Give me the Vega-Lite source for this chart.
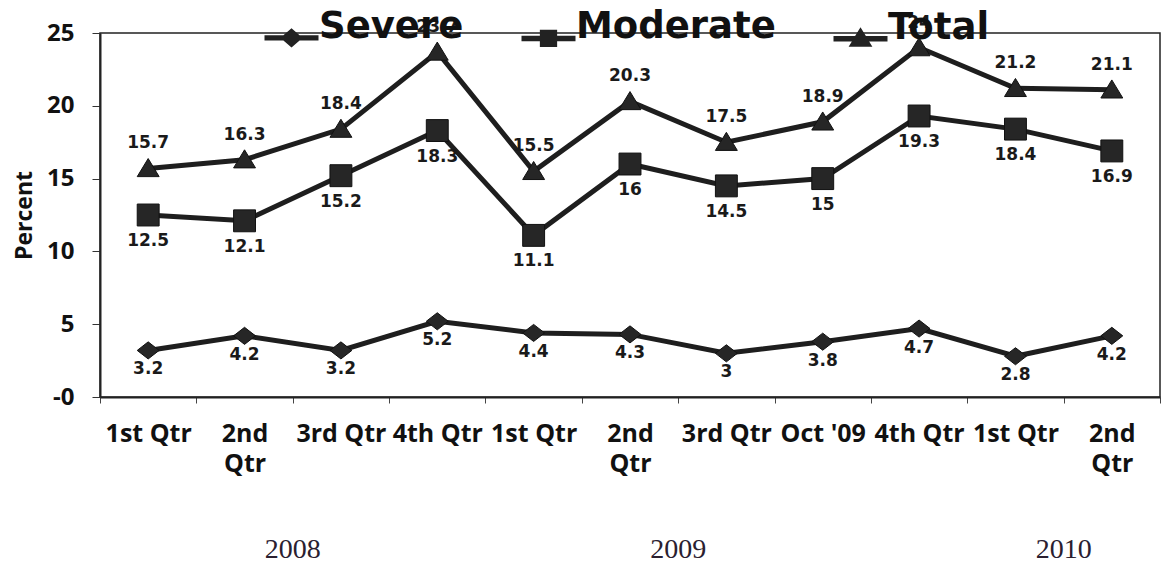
{
  "$schema": "https://vega.github.io/schema/vega-lite/v6.json",
  "width": 1060,
  "height": 364,
  "autosize": {"type": "none"},
  "padding": {"left": 100, "top": 33, "right": 3, "bottom": 171},
  "background": "white",
  "config": {
    "view": {"stroke": "#222", "strokeWidth": 1.5},
    "legend": {
      "orient": "none",
      "legendX": 164,
      "legendY": -23,
      "direction": "horizontal",
      "labelFont": "DejaVu Sans",
      "labelFontWeight": "bold",
      "labelFontSize": 37,
      "labelColor": "#111",
      "labelOffset": 0,
      "labelBaseline": "alphabetic",
      "labelLimit": 400,
      "columnPadding": 56,
      "symbolSize": 2916,
      "symbolOpacity": 1,
      "symbolFillColor": "#222",
      "symbolStrokeColor": "#111",
      "symbolStrokeWidth": 0.5
    }
  },
  "datasets": {
    "main": [
      {"period": "1st Qtr 2008", "series": "Severe", "value": 3.2},
      {"period": "2nd Qtr 2008", "series": "Severe", "value": 4.2},
      {"period": "3rd Qtr 2008", "series": "Severe", "value": 3.2},
      {"period": "4th Qtr 2008", "series": "Severe", "value": 5.2},
      {"period": "1st Qtr 2009", "series": "Severe", "value": 4.4},
      {"period": "2nd Qtr 2009", "series": "Severe", "value": 4.3},
      {"period": "3rd Qtr 2009", "series": "Severe", "value": 3},
      {"period": "Oct 2009", "series": "Severe", "value": 3.8},
      {"period": "4th Qtr 2009", "series": "Severe", "value": 4.7},
      {"period": "1st Qtr 2010", "series": "Severe", "value": 2.8},
      {"period": "2nd Qtr 2010", "series": "Severe", "value": 4.2},
      {"period": "1st Qtr 2008", "series": "Moderate", "value": 12.5},
      {"period": "2nd Qtr 2008", "series": "Moderate", "value": 12.1},
      {"period": "3rd Qtr 2008", "series": "Moderate", "value": 15.2},
      {"period": "4th Qtr 2008", "series": "Moderate", "value": 18.3},
      {"period": "1st Qtr 2009", "series": "Moderate", "value": 11.1},
      {"period": "2nd Qtr 2009", "series": "Moderate", "value": 16},
      {"period": "3rd Qtr 2009", "series": "Moderate", "value": 14.5},
      {"period": "Oct 2009", "series": "Moderate", "value": 15},
      {"period": "4th Qtr 2009", "series": "Moderate", "value": 19.3},
      {"period": "1st Qtr 2010", "series": "Moderate", "value": 18.4},
      {"period": "2nd Qtr 2010", "series": "Moderate", "value": 16.9},
      {"period": "1st Qtr 2008", "series": "Total", "value": 15.7},
      {"period": "2nd Qtr 2008", "series": "Total", "value": 16.3},
      {"period": "3rd Qtr 2008", "series": "Total", "value": 18.4},
      {"period": "4th Qtr 2008", "series": "Total", "value": 23.7},
      {"period": "1st Qtr 2009", "series": "Total", "value": 15.5},
      {"period": "2nd Qtr 2009", "series": "Total", "value": 20.3},
      {"period": "3rd Qtr 2009", "series": "Total", "value": 17.5},
      {"period": "Oct 2009", "series": "Total", "value": 18.9},
      {"period": "4th Qtr 2009", "series": "Total", "value": 24},
      {"period": "1st Qtr 2010", "series": "Total", "value": 21.2},
      {"period": "2nd Qtr 2010", "series": "Total", "value": 21.1}
    ],
    "years": [
      {"period": "2nd Qtr 2008", "year": "2008"},
      {"period": "2nd Qtr 2009", "year": "2009"},
      {"period": "1st Qtr 2010", "year": "2010"}
    ]
  },
  "layer": [
    {
      "data": {"name": "main"},
      "mark": {"type": "line", "strokeWidth": 5, "color": "#1e1e1e"},
      "encoding": {
        "x": {
          "field": "period",
          "type": "ordinal",
          "scale": {
            "type": "band",
            "domain": ["1st Qtr 2008", "2nd Qtr 2008", "3rd Qtr 2008", "4th Qtr 2008", "1st Qtr 2009", "2nd Qtr 2009", "3rd Qtr 2009", "Oct 2009", "4th Qtr 2009", "1st Qtr 2010", "2nd Qtr 2010"],
            "paddingInner": 0,
            "paddingOuter": 0
          },
          "axis": {
            "title": null,
            "labelExpr": "!isValid(datum.value) ? '' : (test(/^2nd/, '' + datum.value) ? ['2nd', 'Qtr'] : (datum.value == 'Oct 2009' ? \"Oct '09\" : substring('' + datum.value, 0, 7)))",
            "labelAngle": 0,
            "labelOverlap": false,
            "labelFont": "Open Sans",
            "labelFontWeight": "bold",
            "labelFontSize": 25,
            "labelLineHeight": 30,
            "labelPadding": 18,
            "labelBaseline": "top",
            "labelLimit": 300,
            "labelColor": "#111",
            "tickSize": 6,
            "tickBand": "extent",
            "tickColor": "#444",
            "domainColor": "#222",
            "domainWidth": 2,
            "grid": false
          }
        },
        "y": {
          "field": "value",
          "type": "quantitative",
          "scale": {"domain": [0, 25], "nice": false},
          "axis": {
            "title": "Percent",
            "values": [0, 5, 10, 15, 20, 25],
            "labelExpr": "datum.value == 0 ? '-0' : '' + datum.label",
            "grid": false,
            "tickSize": 8,
            "tickColor": "#333",
            "labelPadding": 18,
            "labelFont": "Open Sans",
            "labelFontWeight": "bold",
            "labelFontSize": 24,
            "labelColor": "#111",
            "titleFont": "Open Sans",
            "titleFontWeight": "bold",
            "titleFontSize": 23,
            "titleColor": "#111",
            "titlePadding": 10,
            "domainColor": "#222",
            "domainWidth": 2
          }
        },
        "detail": {"field": "series", "type": "nominal"}
      }
    },
    {
      "data": {"name": "main"},
      "mark": {"type": "point", "filled": true, "size": 480, "color": "#262626", "stroke": "#111", "strokeWidth": 1, "opacity": 1},
      "encoding": {
        "x": {"field": "period", "type": "ordinal"},
        "y": {"field": "value", "type": "quantitative"},
        "shape": {
          "field": "series",
          "type": "nominal",
          "scale": {"domain": ["Severe", "Moderate", "Total"], "range": ["M-1,0L0,-0.78L1,0L0,0.78Z", "square", "M0,-0.9L1,0.75L-1,0.75Z"]},
          "legend": null
        }
      }
    },
    {
      "data": {"name": "main"},
      "mark": {"type": "point", "filled": true, "size": 10, "color": "#222", "opacity": 0},
      "encoding": {
        "x": {"field": "period", "type": "ordinal"},
        "y": {"field": "value", "type": "quantitative"},
        "shape": {
          "field": "series",
          "type": "nominal",
          "scale": {"domain": ["Severe", "Moderate", "Total"], "range": [
            "M-1,-0.1H-0.3L0,-0.36L0.3,-0.1H1V0.1H0.3L0,0.36L-0.3,0.1H-1Z",
            "M-1,-0.1H-0.32V-0.32H0.32V-0.1H1V0.1H0.32V0.32H-0.32V0.1H-1Z",
            "M-1,-0.1H-0.2L0,-0.42L0.2,-0.1H1V0.1H0.32L0.44,0.3H-0.44L-0.32,0.1H-1Z"
          ]},
          "legend": {"title": null}
        }
      }
    },
    {
      "data": {"name": "main"},
      "transform": [{"filter": "datum.series == 'Severe'"}],
      "mark": {"type": "text", "font": "DejaVu Sans", "fontWeight": "bold", "fontSize": 17, "color": "#1a1a1a", "baseline": "middle", "dy": 19},
      "encoding": {
        "x": {"field": "period", "type": "ordinal"},
        "y": {"field": "value", "type": "quantitative"},
        "text": {"field": "value", "type": "quantitative"}
      }
    },
    {
      "data": {"name": "main"},
      "transform": [{"filter": "datum.series == 'Moderate'"}],
      "mark": {"type": "text", "font": "DejaVu Sans", "fontWeight": "bold", "fontSize": 17, "color": "#1a1a1a", "baseline": "middle", "dy": 26},
      "encoding": {
        "x": {"field": "period", "type": "ordinal"},
        "y": {"field": "value", "type": "quantitative"},
        "text": {"field": "value", "type": "quantitative"}
      }
    },
    {
      "data": {"name": "main"},
      "transform": [{"filter": "datum.series == 'Total'"}],
      "mark": {"type": "text", "font": "DejaVu Sans", "fontWeight": "bold", "fontSize": 17, "color": "#1a1a1a", "baseline": "middle", "dy": -25},
      "encoding": {
        "x": {"field": "period", "type": "ordinal"},
        "y": {"field": "value", "type": "quantitative"},
        "text": {"field": "value", "type": "quantitative"}
      }
    },
    {
      "data": {"name": "years"},
      "mark": {"type": "text", "font": "Liberation Serif", "fontSize": 28, "color": "#2a2030", "baseline": "alphabetic"},
      "encoding": {
        "x": {"field": "period", "type": "ordinal", "bandPosition": 1},
        "y": {"datum": -11.06, "type": "quantitative"},
        "text": {"field": "year", "type": "nominal"}
      }
    }
  ],
  "resolve": {"scale": {"shape": "independent"}}
}
